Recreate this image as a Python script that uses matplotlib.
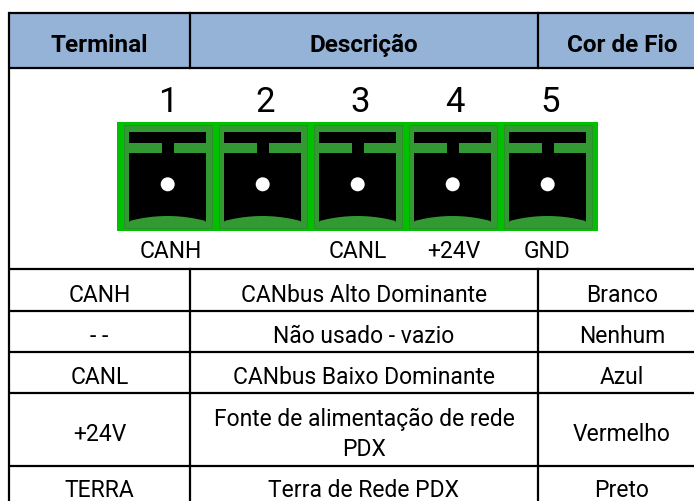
import matplotlib
matplotlib.use("Agg")
import matplotlib.pyplot as plt
from matplotlib.patches import Rectangle, Circle, Polygon
import numpy as np

# table contents
headers = ["Terminal", "Descrição", "Cor de Fio"]
terminals = ["CANH", "- -", "CANL", "+24V", "TERRA"]
descriptions = ["CANbus Alto Dominante", "Não usado - vazio", "CANbus Baixo Dominante",
                "Fonte de alimentação de rede\nPDX", "Terra de Rede PDX"]
wire_colors = ["Branco", "Nenhum", "Azul", "Vermelho", "Preto"]
pin_numbers = ["1", "2", "3", "4", "5"]
pin_labels = ["CANH", "", "CANL", "+24V", "GND"]

# grid lines in pixels (last column runs past the edge of the picture)
col_x = [9, 190, 538, 706]
row_y = [12.5, 67.5, 268.5, 311, 352, 393, 466, 510]

# text positions in pixels
number_x = [168, 265, 360, 454.5, 550]
label_x = [170.5, 263, 358, 453.5, 547.5]
baselines = [301.7, 342.7, 384.3, 441, 496.7]

W, H = 694, 501
fig = plt.figure(figsize=(W / 100, H / 100), dpi=100)
ax = fig.add_axes([0, 0, 1, 1])
ax.set_xlim(0, W)
ax.set_ylim(H, 0)
ax.axis("off")

font = ["Roboto", "DejaVu Sans"]
light = "#00c000"
mid = "#339933"

# header band
ax.add_patch(Rectangle((col_x[0], row_y[0]), W - col_x[0], row_y[1] - row_y[0], fc="#95b3d7", ec="none"))
for i, h in enumerate(headers):
    ax.text((col_x[i] + col_x[i + 1]) / 2, 51.7, h, ha="center", va="baseline",
            fontsize=17.5, fontweight="bold", family=font)

# connector block
ax.add_patch(Rectangle((117, 122), 481, 109, fc=light, ec="none"))
pitch = 95
for i in range(5):
    x0 = 123.7 + i * pitch
    ax.add_patch(Rectangle((x0, 125), 88.3, 103, fc=mid, ec="#2d8a2d", lw=0.6))
    ax.add_patch(Rectangle((x0 + 5.7, 132.3), 76.3, 89.5, fc="black", ec="none"))
    ax.add_patch(Rectangle((x0 + 5.7, 142.7), 32.3, 10, fc=mid, ec="none"))
    ax.add_patch(Rectangle((x0 + 50.3, 142.7), 31.7, 10, fc=mid, ec="none"))
    t = np.linspace(-1, 1, 30)
    arc_x = x0 + 43.8 + 38.1 * t
    arc_y = 216 + (t ** 2) * 5
    pts = list(zip(arc_x, arc_y)) + [(x0 + 81.9, 222), (x0 + 5.7, 222)]
    ax.add_patch(Polygon(pts, fc=mid, ec="none"))
    ax.add_patch(Circle((x0 + 44, 184.3), 7, fc="white", ec="none"))
    ax.text(number_x[i], 111.7, pin_numbers[i], ha="center", va="baseline", fontsize=25, family=font)
    ax.text(label_x[i], 258.3, pin_labels[i], ha="center", va="baseline", fontsize=16.5, family=font)

# body rows
for r in range(5):
    by = baselines[r]
    ax.text((col_x[0] + col_x[1]) / 2, by, terminals[r], ha="center", va="baseline", fontsize=16.5, family=font)
    # two line cell sits on its own last line
    desc_y = 456 if "\n" in descriptions[r] else by
    ax.text((col_x[1] + col_x[2]) / 2, desc_y, descriptions[r], ha="center", va="baseline", fontsize=16.5,
            family=font, linespacing=1.37)
    ax.text((col_x[2] + col_x[3]) / 2, by, wire_colors[r], ha="center", va="baseline", fontsize=16.5, family=font)

# grid lines
lw = 1.6
for y in row_y[:-1]:
    ax.plot([col_x[0], W], [y, y], color="black", lw=lw, solid_capstyle="butt")
ax.plot([col_x[0], col_x[0]], [row_y[0], H], color="black", lw=lw)
for x in col_x[1:3]:
    ax.plot([x, x], [row_y[0], row_y[1]], color="black", lw=lw)
    ax.plot([x, x], [row_y[2], H], color="black", lw=lw)

fig.savefig("out.png", dpi=100)
